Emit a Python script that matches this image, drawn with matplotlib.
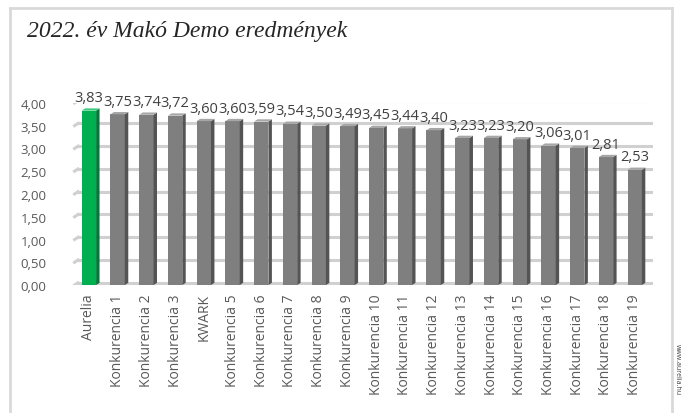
import matplotlib
matplotlib.use("Agg")
import matplotlib.pyplot as plt
from matplotlib.patches import Polygon
from matplotlib.lines import Line2D

categories = ["Aurelia", "Konkurencia 1", "Konkurencia 2", "Konkurencia 3", "KWARK",
              "Konkurencia 5", "Konkurencia 6", "Konkurencia 7", "Konkurencia 8",
              "Konkurencia 9", "Konkurencia 10", "Konkurencia 11", "Konkurencia 12",
              "Konkurencia 13", "Konkurencia 14", "Konkurencia 15", "Konkurencia 16",
              "Konkurencia 17", "Konkurencia 18", "Konkurencia 19"]
values = [3.83, 3.75, 3.74, 3.72, 3.60, 3.60, 3.59, 3.54, 3.50, 3.49, 3.45, 3.44,
          3.40, 3.23, 3.23, 3.20, 3.06, 3.01, 2.81, 2.53]
yticks = [0.0, 0.5, 1.0, 1.5, 2.0, 2.5, 3.0, 3.5, 4.0]
title = "2022. év Makó Demo eredmények"
side_note = "www.aurelia.hu"

font = "Open Sans"
fig = plt.figure(figsize=(6.82, 4.14), dpi=100)
ax = fig.add_axes([0.103, 0.309, 0.855, 0.44])

n = len(values)
xs = list(range(n))
width = 0.5
dx = 0.12   # depth offset in x (data units)
dy = 0.05   # depth offset in y (data units)

# back-wall gridlines with left-wall diagonals
for t in yticks:
    ax.add_line(Line2D([-0.5 + dx, n - 0.5 + dx], [t + dy, t + dy], color="#d0d0d0", lw=2.2, zorder=1))
    ax.add_line(Line2D([-0.5, -0.5 + dx], [t, t + dy], color="#d0d0d0", lw=2.2, zorder=1))

front_cols = ["#00b050" if i == 0 else "#7f7f7f" for i in range(n)]
side_cols = ["#007a38" if i == 0 else "#545454" for i in range(n)]
top_cols = ["#3ccb7a" if i == 0 else "#a6a6a6" for i in range(n)]

ax.bar(xs, values, width=width, color=front_cols, zorder=3, edgecolor="none")
for x, v, sc, tc in zip(xs, values, side_cols, top_cols):
    r = x + width / 2
    l = x - width / 2
    ax.add_patch(Polygon([(r, 0), (r + dx, dy), (r + dx, v + dy), (r, v)], closed=True,
                         facecolor=sc, edgecolor="none", zorder=3))
    ax.add_patch(Polygon([(l, v), (r, v), (r + dx, v + dy), (l + dx, v + dy)], closed=True,
                         facecolor=tc, edgecolor="none", zorder=3))
    ax.text(x, v + 0.12, f"{v:.2f}".replace(".", ","), ha="center", va="bottom",
            fontsize=10.5, family=font, color="#404040", zorder=5)

ax.set_xlim(-0.65, n - 0.35)
ax.set_ylim(0, 4.0)
ax.set_yticks(yticks)
ax.set_yticklabels([f"{t:.2f}".replace(".", ",") for t in yticks], family=font, fontsize=9.5, color="#595959")
ax.set_xticks(xs)
ax.set_xticklabels(categories, rotation=90, family=font, fontsize=10, color="#595959")
ax.tick_params(length=0, pad=6)
ax.tick_params(axis="y", pad=17)
for s in ax.spines.values():
    s.set_visible(False)

fig.text(27 / 682, 1 - 32 / 414, title, family="Liberation Serif", style="italic",
         fontsize=17, color="#262626", ha="left", va="center")

# outer frame
for (x0, y0, x1, y1) in [(10, 9, 672, 9), (10, 9, 10, 414), (672, 9, 672, 414)]:
    fig.add_artist(Line2D([x0 / 682, x1 / 682], [1 - y0 / 414, 1 - y1 / 414],
                          color="#d9d9d9", lw=2, transform=fig.transFigure))

fig.text(677 / 682, 1 - 370 / 414, side_note, rotation=270, fontsize=5,
         family=font, color="#404040", ha="center", va="center")

fig.savefig("out.png", dpi=100)
